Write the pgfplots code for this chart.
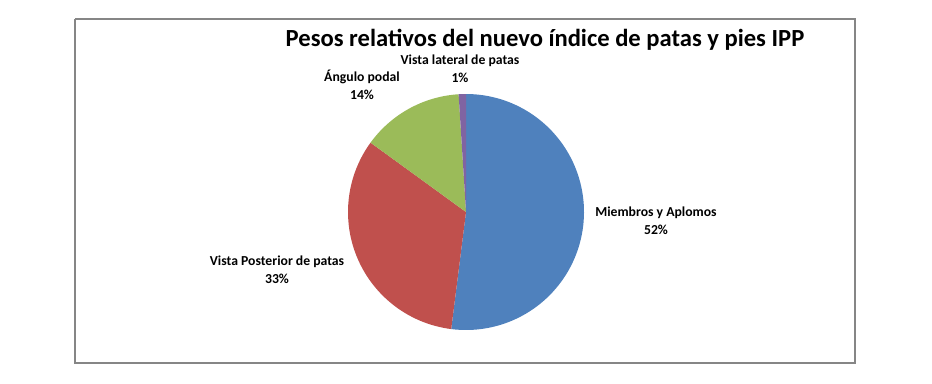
\documentclass[border=0pt]{standalone}
\usepackage{pgfplots}
\pgfplotsset{compat=1.18}
\usepackage{fontspec}
\setmainfont{Carlito}
\definecolor{cA}{HTML}{4F81BD}
\definecolor{cB}{HTML}{C0504D}
\definecolor{cC}{HTML}{9BBB59}
\definecolor{cD}{HTML}{8064A2}
\definecolor{frame}{HTML}{868686}
% data: shares in percent
\def\vA{52}\def\vB{33}\def\vC{14}\def\vD{1}
\begin{document}
\begin{tikzpicture}
\pgfmathsetmacro{\aA}{90}
\pgfmathsetmacro{\aB}{90-3.6*\vA}
\pgfmathsetmacro{\aC}{\aB-3.6*\vB}
\pgfmathsetmacro{\aD}{\aC-3.6*\vC}
\pgfmathsetmacro{\aE}{\aD-3.6*\vD}
\path[use as bounding box] (0,0) rectangle (9.32cm,3.83cm);
\begin{axis}[
  at={(0,0)}, anchor=south west,
  scale only axis, width=9.32cm, height=3.83cm,
  xmin=0, xmax=932, ymin=0, ymax=383,
  hide axis, clip=false,
  trig format plots=deg,
]
% frame
\addplot[draw=frame, line width=0.7pt] coordinates {(75,364) (855,364) (855,20) (75,20) (75,364)};
% slices
\addplot[draw=none, fill=cA, domain=\aA:\aB, samples=90, variable=\t] ({466+118*cos(\t)},{171+118*sin(\t)}) -- (axis cs:466,171) -- cycle;
\addplot[draw=none, fill=cB, domain=\aB:\aC, samples=60, variable=\t] ({466+118*cos(\t)},{171+118*sin(\t)}) -- (axis cs:466,171) -- cycle;
\addplot[draw=none, fill=cC, domain=\aC:\aD, samples=30, variable=\t] ({466+118*cos(\t)},{171+118*sin(\t)}) -- (axis cs:466,171) -- cycle;
\addplot[draw=none, fill=cD, domain=\aD:\aE, samples=5, variable=\t] ({466+118*cos(\t)},{171+118*sin(\t)}) -- (axis cs:466,171) -- cycle;
% title and labels
\node[font=\fontsize{7.0}{8.4}\selectfont\bfseries] at (axis cs:545,343) {Pesos relativos del nuevo índice de patas y pies IPP};
\node[font=\fontsize{3.9}{5.1}\selectfont\bfseries, align=center] at (axis cs:460,314) {Vista lateral de patas\\1\%};
\node[font=\fontsize{3.9}{5.1}\selectfont\bfseries, align=center] at (axis cs:362,298) {Ángulo podal\\14\%};
\node[font=\fontsize{3.9}{5.1}\selectfont\bfseries, align=center] at (axis cs:656,162) {Miembros y Aplomos\\52\%};
\node[font=\fontsize{3.9}{5.1}\selectfont\bfseries, align=center] at (axis cs:277,113) {Vista Posterior de patas\\33\%};
\end{axis}
\end{tikzpicture}
\end{document}
